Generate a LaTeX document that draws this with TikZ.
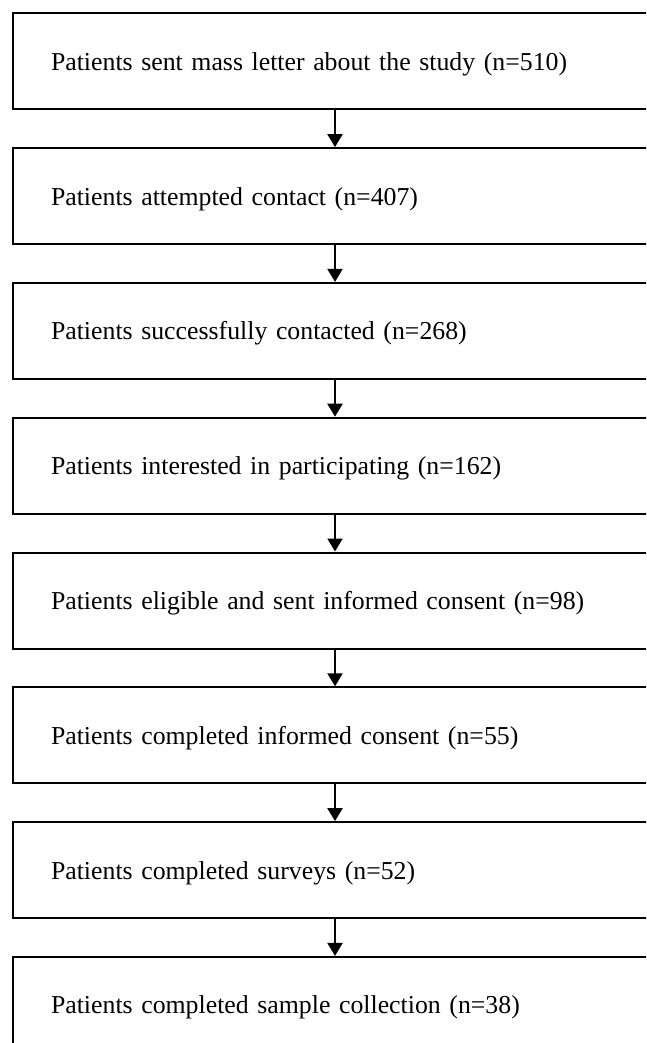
\documentclass[tikz,border=0pt]{standalone}
\usepackage{fontspec}
\setmainfont{Liberation Serif}
\usepackage{tikz}
\usetikzlibrary{arrows.meta,positioning}

\begin{document}
\begin{tikzpicture}[>={Triangle[length=13pt,width=15pt]},x=1pt,y=-1pt,
  stage/.style={rectangle,draw,line width=2pt,minimum width=645pt,minimum height=96pt,
    inner xsep=38.5pt,text width=568pt,text depth=0pt,align=left,font=\fontsize{25.8}{30}\selectfont},
  flow/.style={->,line width=2.2pt}]
\useasboundingbox (0,0) rectangle (646,1043);
\clip (0,0) rectangle (646,1043);
% recruitment stages, top to bottom
\node[stage] (sent)      at (335,61.3)  {Patients sent mass letter about the study (n=510)};
\node[stage] (attempt)   at (335,196.1) {Patients attempted contact (n=407)};
\node[stage] (contact)   at (335,330.9) {Patients successfully contacted (n=268)};
\node[stage] (interest)  at (335,465.7) {Patients interested in participating (n=162)};
\node[stage] (eligible)  at (335,600.5) {Patients eligible and sent informed consent (n=98)};
\node[stage] (consent)   at (335,735.3) {Patients completed informed consent (n=55)};
\node[stage] (survey)    at (335,870.1) {Patients completed surveys (n=52)};
\node[stage] (sample)    at (335,1004.9){Patients completed sample collection (n=38)};
\draw[flow] (sent)--(attempt);
\draw[flow] (attempt)--(contact);
\draw[flow] (contact)--(interest);
\draw[flow] (interest)--(eligible);
\draw[flow] (eligible)--(consent);
\draw[flow] (consent)--(survey);
\draw[flow] (survey)--(sample);
\end{tikzpicture}
\end{document}
